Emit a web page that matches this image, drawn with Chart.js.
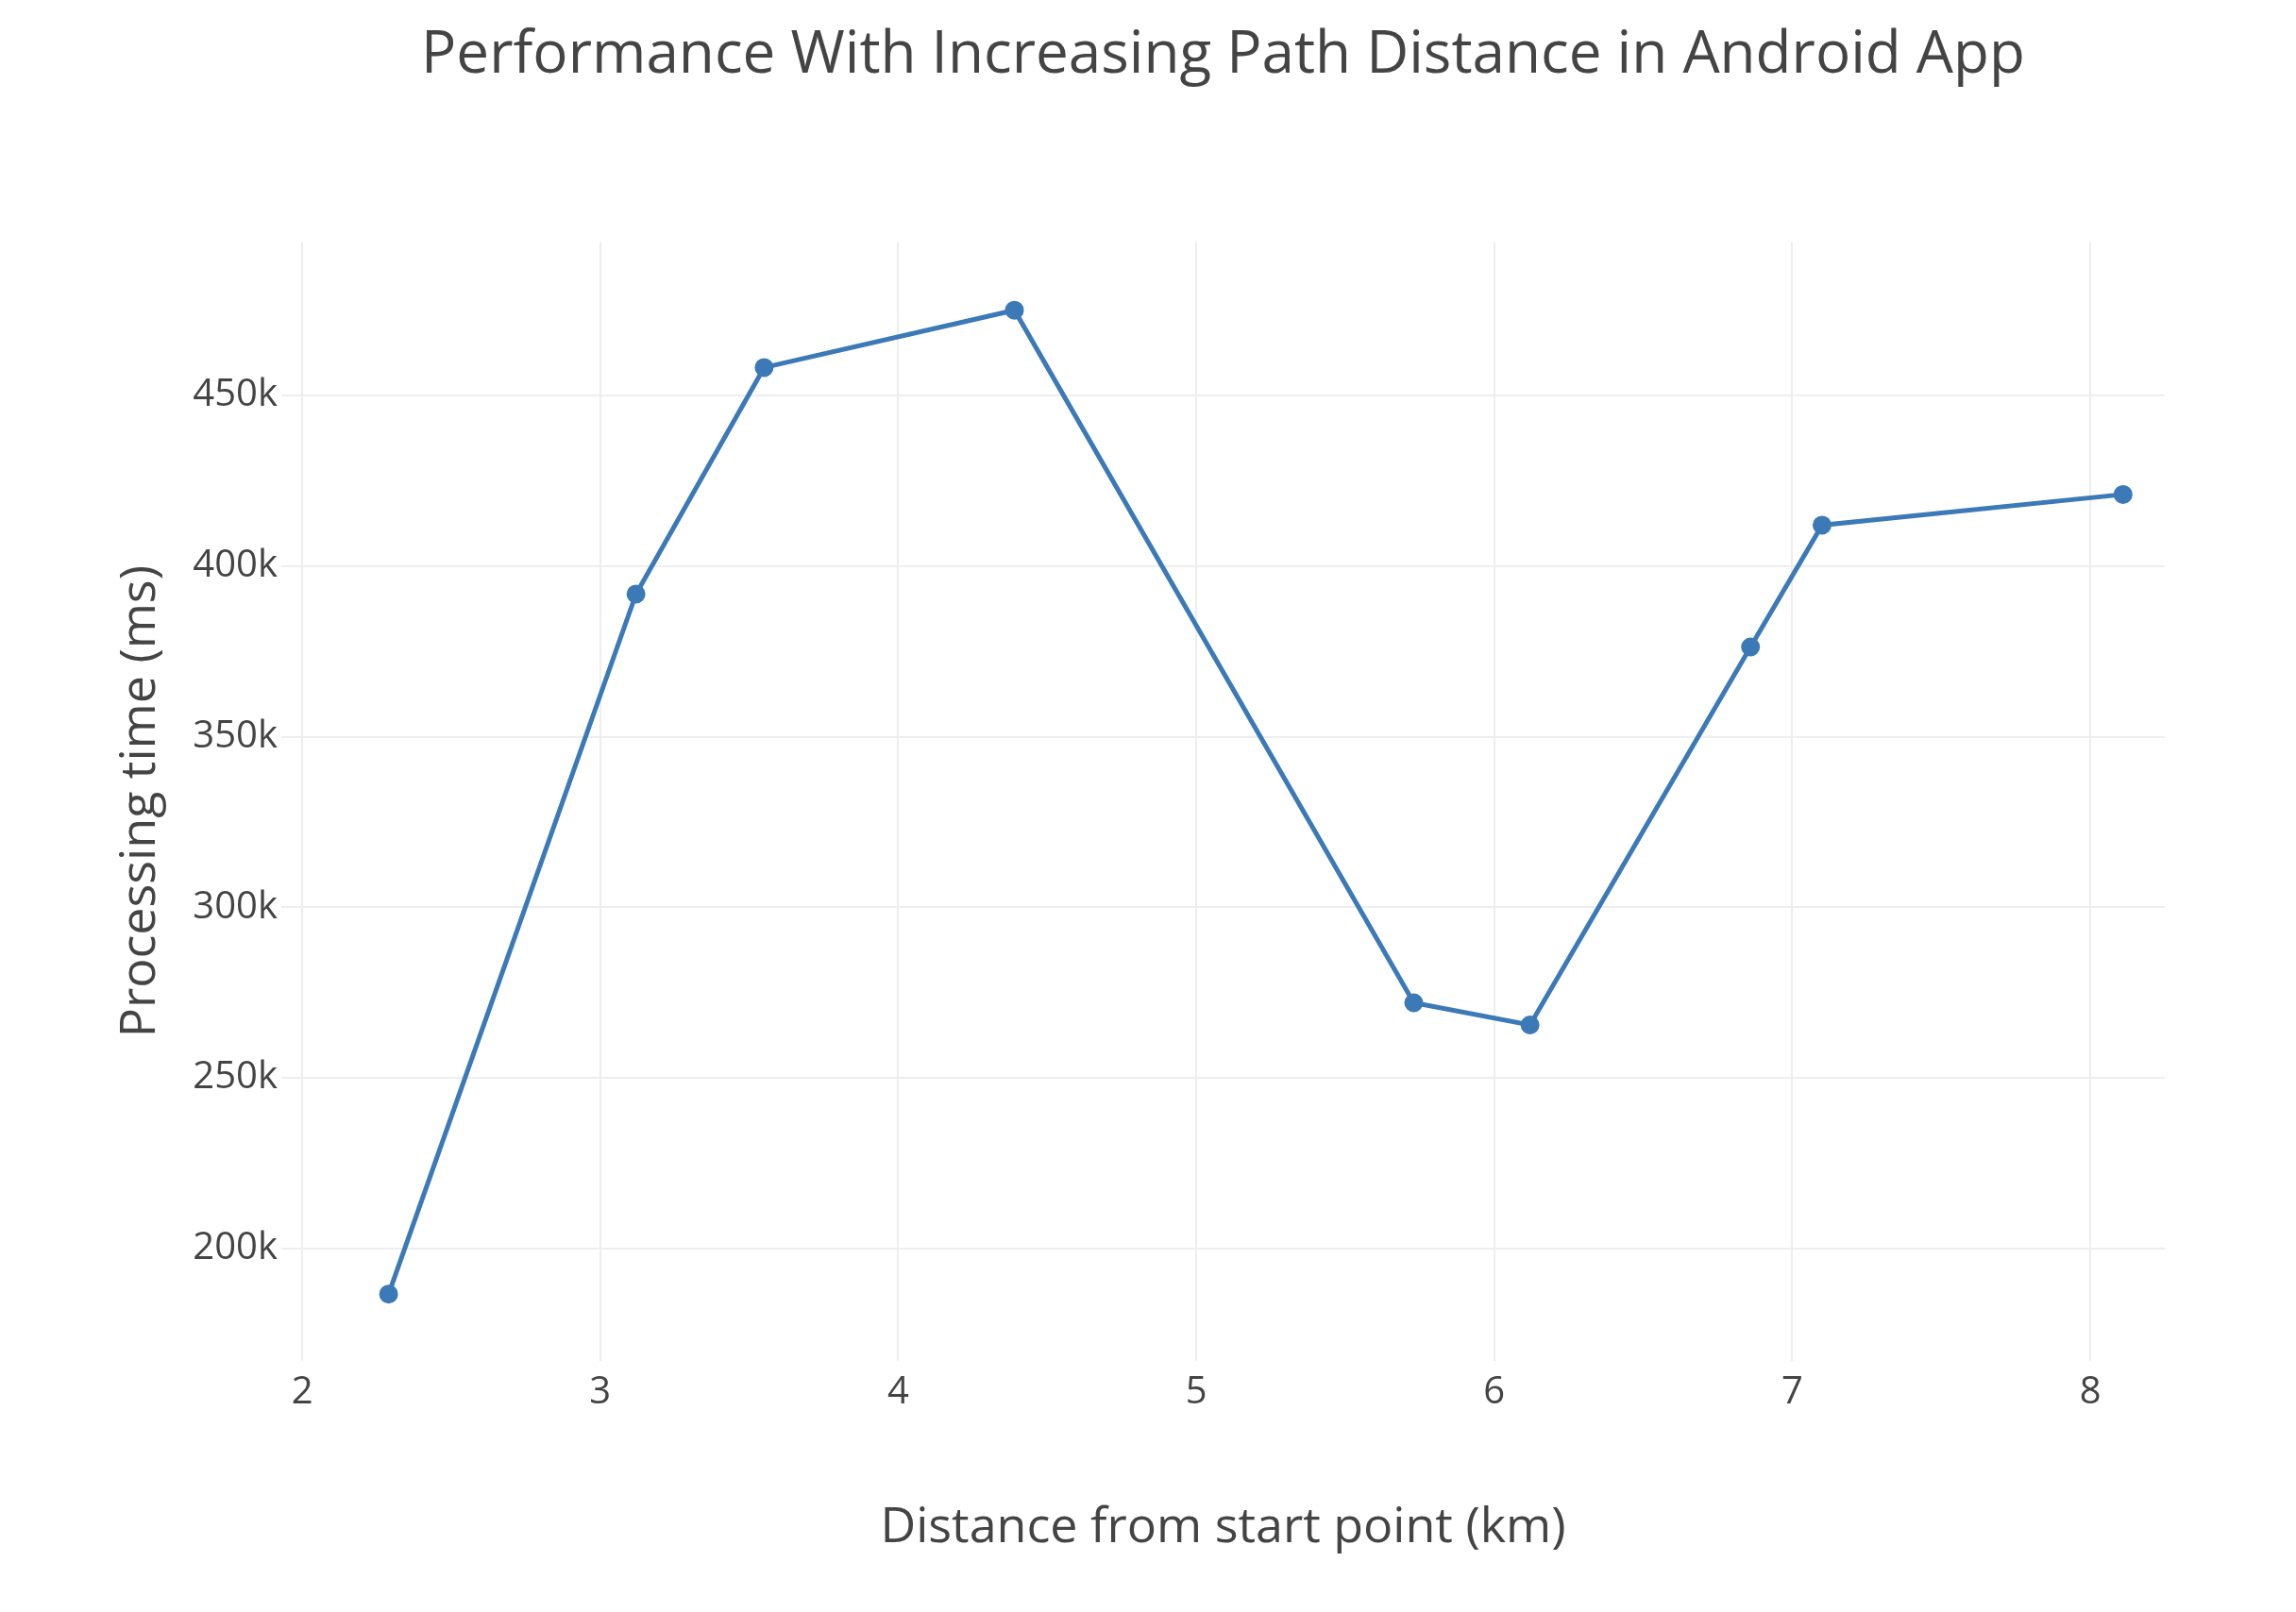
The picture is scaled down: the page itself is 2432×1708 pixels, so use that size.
<!DOCTYPE html>
<html><head><meta charset="utf-8">
<script src="https://cdn.jsdelivr.net/npm/chart.js@4"></script>
<style>html,body{margin:0;padding:0;background:#fff}#c{display:block}</style>
</head><body>
<div style="width:2432px;height:1708px"><canvas id="c"></canvas></div>
<script>
const distances = [2.29, 3.12, 3.55, 4.39, 5.73, 6.12, 6.86, 7.10, 8.11];
const times = [186600, 391800, 458200, 475000, 272000, 265500, 376300, 412000, 421000];
const xTicks = [2, 3, 4, 5, 6, 7, 8];
const yTicks = [200000, 250000, 300000, 350000, 400000, 450000];
const font = '"Open Sans", sans-serif';
new Chart(document.getElementById('c'), {
  type: 'scatter',
  data: { datasets: [{
    data: distances.map((d, i) => ({ x: d, y: times[i] })),
    showLine: true, borderColor: '#3b79b7', backgroundColor: '#3b79b7',
    borderWidth: 5, pointRadius: 7.5, pointHoverRadius: 7.5, tension: 0
  }]},
  options: {
    responsive: true, maintainAspectRatio: false, animation: false,
    layout: { padding: { left: 0, right: 139, top: 0, bottom: 0 } },
    plugins: {
      legend: { display: false }, tooltip: { enabled: false },
      title: { display: true, fullSize: false, text: 'Performance With Increasing Path Distance in Android App',
        color: '#444', font: { family: font, size: 62, weight: 'normal' }, padding: { top: 22, bottom: 160 } }
    },
    scales: {
      x: { type: 'linear', min: 1.93, max: 8.25,
        afterBuildTicks: a => { a.ticks = xTicks.map(v => ({ value: v })); },
        afterFit: a => { a.height = 266; },
        grid: { color: '#eeeeee', lineWidth: 2, drawTicks: false }, border: { display: false },
        ticks: { color: '#444', font: { family: font, size: 40 }, padding: 10 },
        title: { display: true, text: 'Distance from start point (km)', color: '#444',
          font: { family: font, size: 52 }, padding: { top: 0, bottom: 58 } } },
      y: { min: 167000, max: 495000,
        afterBuildTicks: a => { a.ticks = yTicks.map(v => ({ value: v })); },
        afterFit: a => { a.width = 298; },
        grid: { color: '#eeeeee', lineWidth: 2, drawTicks: false }, border: { display: false },
        ticks: { color: '#444', font: { family: font, size: 40 }, padding: 4,
          callback: v => (v / 1000) + 'k' },
        title: { display: true, text: 'Processing time (ms)', color: '#444',
          font: { family: font, size: 52 }, padding: { top: 118, bottom: 0 } } }
    }
  }
});
</script></body></html>
